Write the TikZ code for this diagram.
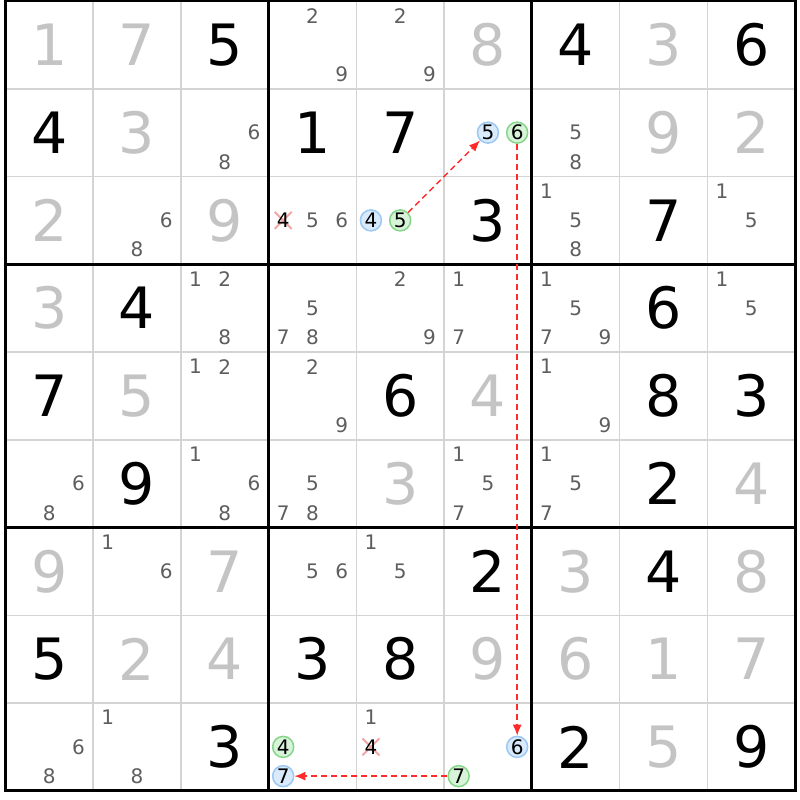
\documentclass[tikz,border=0pt]{standalone}
\usepackage{fontspec}
\setmainfont{DejaVu Sans}
\usetikzlibrary{arrows.meta,shapes.misc}
\definecolor{gridgray}{HTML}{D4D4D4}
\definecolor{givengray}{HTML}{C4C4C4}
\definecolor{candgray}{HTML}{5E5E5E}
\definecolor{onblue}{HTML}{9CC8F2}
\definecolor{onbluefill}{HTML}{D8EAFC}
\definecolor{offgreen}{HTML}{86D68A}
\definecolor{offgreenfill}{HTML}{D8F4D8}
\definecolor{strikepink}{HTML}{F4A4A4}
\definecolor{linkred}{HTML}{FF2A2A}
\newcommand{\bigdigit}{\fontsize{57}{57}\selectfont}
\newcommand{\smalldigit}{\fontsize{20}{20}\selectfont}

\begin{document}
\begin{tikzpicture}[x=87.75pt, y=-87.75pt]
	\tikzstyle {cell line} = [draw=gridgray, line width=1.5pt]
	\tikzstyle {box line} = [draw=black, line width=3pt]
	\tikzstyle {solved} = [font=\bigdigit, text=black, inner sep=0pt]
	\tikzstyle {given} = [font=\bigdigit, text=givengray, inner sep=0pt]
	\tikzstyle {cand} = [font=\smalldigit, text=candgray, inner sep=0pt]
	\tikzstyle {on cand} = [cand, text=black, circle, draw=onblue, fill=onbluefill, line width=1.5pt, minimum size=21pt]
	\tikzstyle {off cand} = [cand, text=black, circle, draw=offgreen, fill=offgreenfill, line width=1.5pt, minimum size=21pt]
	\tikzstyle {strike} = [cross out, draw=strikepink, line width=2pt, minimum size=15pt, inner sep=0pt]
	\tikzstyle {link} = [draw=linkred, line width=1.4pt, dash pattern=on 6pt off 4pt, -{Latex[length=11pt, width=9pt]}]

	\useasboundingbox[fill=white] (-0.0604, -0.0114) rectangle (9.0564, 9.1054);

	\foreach \i in {1, 2, 4, 5, 7, 8} {
		\draw[cell line] (\i, 0) -- (\i, 9);
		\draw[cell line] (0, \i) -- (9, \i);
	}
	\foreach \i in {3, 6} {
		\draw[box line] (\i, 0) -- (\i, 9);
		\draw[box line] (0, \i) -- (9, \i);
	}
	\draw[box line] (0, 0) rectangle (9, 9);

	% solved and given digits: column/row/digit/style
	\foreach \c/\r/\d/\s in {1/1/1/given, 2/1/7/given, 3/1/5/solved, 6/1/8/given, 7/1/4/solved, 8/1/3/given, 9/1/6/solved,
			1/2/4/solved, 2/2/3/given, 4/2/1/solved, 5/2/7/solved, 8/2/9/given, 9/2/2/given,
			1/3/2/given, 3/3/9/given, 6/3/3/solved, 8/3/7/solved,
			1/4/3/given, 2/4/4/solved, 8/4/6/solved,
			1/5/7/solved, 2/5/5/given, 5/5/6/solved, 6/5/4/given, 8/5/8/solved, 9/5/3/solved,
			2/6/9/solved, 5/6/3/given, 8/6/2/solved, 9/6/4/given,
			1/7/9/given, 3/7/7/given, 6/7/2/solved, 7/7/3/given, 8/7/4/solved, 9/7/8/given,
			1/8/5/solved, 2/8/2/given, 3/8/4/given, 4/8/3/solved, 5/8/8/solved, 6/8/9/given, 7/8/6/given, 8/8/1/given, 9/8/7/given,
			3/9/3/solved, 7/9/2/solved, 8/9/5/given, 9/9/9/solved}
		\node[\s] (d\r\c) at (\c-0.5, \r-0.5) {\d};

	% pencil marks: column/row/candidates
	\foreach \c/\r/\l in {4/1/{2,9}, 5/1/{2,9}, 3/2/{6,8}, 7/2/{5,8},
			2/3/{6,8}, 4/3/{5,6}, 7/3/{1,5,8}, 9/3/{1,5},
			3/4/{1,2,8}, 4/4/{5,7,8}, 5/4/{2,9}, 6/4/{1,7}, 7/4/{1,5,7,9}, 9/4/{1,5},
			3/5/{1,2}, 4/5/{2,9}, 7/5/{1,9},
			1/6/{6,8}, 3/6/{1,6,8}, 4/6/{5,7,8}, 6/6/{1,5,7}, 7/6/{1,5,7},
			2/7/{1,6}, 4/7/{5,6}, 5/7/{1,5},
			1/9/{6,8}, 2/9/{1,8}, 5/9/{1}}
		\foreach \k in \l {
			\pgfmathsetmacro\cx{\c - 1 + (2*mod(\k-1, 3) + 1)/6}
			\pgfmathsetmacro\cy{\r - 1 + (2*floor((\k-1)/3) + 1)/6}
			\node[cand] (p\r\c\k) at (\cx, \cy) {\k};
		}

	% eliminated candidates
	\node[strike] (x34) at (3.1667, 2.5) {};
	\node[cand, text=black] (p344) at (3.1667, 2.5) {4};
	\node[strike] (x95) at (4.1667, 8.5) {};
	\node[cand, text=black] (p954) at (4.1667, 8.5) {4};

	% chain candidates
	\node[on cand] (b265) at (5.5, 1.5) {5};
	\node[off cand] (g266) at (5.8333, 1.5) {6};
	\node[on cand] (b354) at (4.1667, 2.5) {4};
	\node[off cand] (g355) at (4.5, 2.5) {5};
	\node[off cand] (g944) at (3.1667, 8.5) {4};
	\node[on cand] (b947) at (3.1667, 8.8333) {7};
	\node[on cand] (b966) at (5.8333, 8.5) {6};
	\node[off cand] (g967) at (5.1667, 8.8333) {7};

	\draw[link] (g355) -- (b265);
	\draw[link] (g266) -- (b966);
	\draw[link] (g967) -- (b947);
\end{tikzpicture}
\end{document}
